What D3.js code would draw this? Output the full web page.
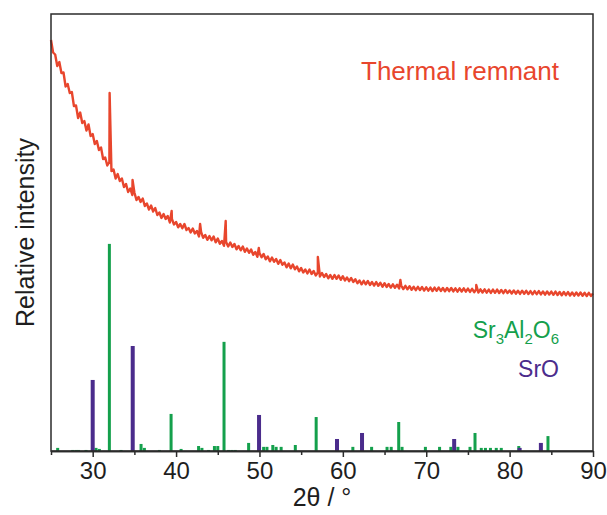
<!DOCTYPE html>
<html>
<head>
<meta charset="utf-8">
<script src="https://cdn.jsdelivr.net/npm/d3@7/dist/d3.min.js"></script>
<style>
    body { margin: 0; background: #fff; }
    svg { display: block; font-family: "Liberation Sans", Arial, sans-serif; }
    .xrd__frame { fill: none; stroke: #2b2b2b; stroke-width: 1.5; }
    .xrd__axis path, .xrd__axis line { stroke: #2b2b2b; stroke-width: 1.5; }
    .xrd__axis text { font-size: 24px; fill: #1e1e1e; }
    .xrd__title { font-size: 25px; fill: #1e1e1e; }
    .xrd__curve { fill: none; stroke: #e8462d; stroke-width: 2.4; stroke-linejoin: round; }
</style>
</head>
<body>
<div class="xrdChart"></div>
<script>
// ----- DATA -----------------------------------------------------------
// scan of the thermal remnant, 25-90 deg in 0.25 deg steps (counts)
const scanStart = 25;
const scanStep = 0.25;
const remnantCounts = [
    4110, 3985, 3965, 3850, 3890, 3780, 3785, 3645, 3670, 3580, 3590, 3450, 3455, 3330, 3385, 3280, 3300, 3205, 3265, 3150,
    3170, 3070, 3100, 3010, 3035, 2920, 2935, 2855, 2890, 2800, 2815, 2725, 2770, 2700, 2725, 2640, 2670, 2590, 2625, 2560,
    2585, 2510, 2540, 2490, 2525, 2450, 2475, 2415, 2455, 2395, 2430, 2360, 2385, 2330, 2370, 2320, 2350, 2285, 2320, 2265,
    2290, 2237, 2270, 2227, 2270, 2210, 2230, 2185, 2225, 2175, 2200, 2145, 2190, 2132, 2160, 2112, 2150, 2107, 2145, 2087,
    2125, 2072, 2100, 2052, 2090, 2045, 2085, 2040, 2070, 2017, 2050, 2007, 2045, 1992, 2025, 1982, 2015, 1962, 1990, 1942,
    1980, 1937, 1970, 1917, 1945, 1897, 1935, 1892, 1920, 1872, 1910, 1862, 1885, 1837, 1875, 1827, 1865, 1817, 1845, 1797,
    1830, 1785, 1815, 1775, 1815, 1770, 1800, 1755, 1785, 1745, 1780, 1740, 1770, 1727, 1760, 1722, 1760, 1722, 1755, 1712,
    1748, 1705, 1735, 1698, 1730, 1690, 1718, 1677, 1705, 1667, 1702, 1667, 1700, 1660, 1690, 1654, 1690, 1652, 1682, 1642,
    1678, 1640, 1670, 1634, 1667, 1632, 1663, 1625, 1655, 1619, 1652, 1617, 1648, 1612, 1642, 1608, 1642, 1609, 1640, 1604,
    1637, 1603, 1634, 1600, 1634, 1602, 1635, 1600, 1630, 1597, 1630, 1598, 1630, 1596, 1627, 1593, 1627, 1595, 1627, 1593,
    1624, 1591, 1622, 1588, 1618, 1585, 1617, 1585, 1617, 1583, 1614, 1581, 1614, 1582, 1614, 1580, 1611, 1578, 1611, 1579,
    1606, 1575, 1606, 1573, 1603, 1571, 1603, 1572, 1602, 1569, 1599, 1567, 1599, 1568, 1599, 1566, 1595, 1563, 1595, 1564,
    1594, 1562, 1594, 1560, 1590, 1557, 1590, 1558, 1589, 1555, 1585, 1553, 1585, 1554, 1585, 1552, 1582, 1550, 1582, 1551,
    1575
];

// sharp reflections sitting on the remnant background [2theta, counts]
const remnantPeaks = [
    [32.03, 3580], [34.78, 2710], [39.47, 2400], [42.88, 2270], [45.95, 2300],
    [49.92, 2030], [57.00, 1940], [66.90, 1710], [76.00, 1660]
];

// reference pattern Sr3Al2O6 (relative intensity, %)
const sr3al2o6Angles = [
    25.8, 27.6, 28.0, 28.3, 29.2, 30.4, 30.8, 32.0, 33.4, 35.8, 36.2, 38.0, 39.4, 40.6,
    42.7, 43.1, 43.9, 44.6, 45.0, 45.75, 46.3, 46.7, 47.1, 48.7, 50.5, 50.9, 51.6, 52.0,
    52.6, 54.3, 56.8, 61.2, 63.45, 65.3, 65.8, 66.7, 67.1, 69.9, 71.6, 72.95, 73.8, 75.25,
    75.85, 76.6, 77.1, 77.7, 78.4, 79.0, 81.1, 84.6
];
const sr3al2o6Intensity = [
    1.5, 0.5, 0.5, 0.5, 0.5, 1.5, 1.0, 100, 0.5, 3.4, 1.5, 0.5, 17.9, 1.0,
    2.4, 1.5, 0.5, 2.4, 2.4, 52.7, 0.5, 0.5, 0.5, 3.9, 2.0, 2.0, 2.9, 2.0,
    2.0, 2.9, 16.4, 2.0, 2.0, 2.0, 2.0, 14.0, 2.0, 2.0, 2.0, 2.0, 2.0, 2.0,
    8.7, 1.5, 1.5, 1.5, 1.5, 1.5, 2.4, 7.2
];

// reference pattern SrO (relative intensity, %)
const sroAngles = [30.0, 34.8, 49.95, 59.3, 62.3, 73.35, 81.2, 83.75];
const sroIntensity = [34.3, 50.7, 17.4, 5.8, 8.7, 5.8, 1.5, 3.9];

const majorTicks = [30, 40, 50, 60, 70, 80, 90];
const minorTicks = [25, 35, 45, 55, 65, 75, 85];

const COLOURS = {
    remnant: "#e8462d",
    sr3al2o6: "#14a04c",
    sro: "#4b2c8c"
};

// ----- CHART ----------------------------------------------------------
function _drawXrdChart()
{
    const width = 607;
    const height = 515;
    const margin = { top: 14, right: 14, bottom: 64, left: 51 };
    const innerWidth = width - margin.left - margin.right;
    const innerHeight = height - margin.top - margin.bottom;

    const svg = d3.select(".xrdChart").append("svg")
        .attr("width", width)
        .attr("height", height);

    const chart = svg.append("g")
        .attr("transform", "translate(" + margin.left + "," + margin.top + ")");

    const x = d3.scaleLinear().domain([25, 90]).range([0, innerWidth]);
    // measured counts
    const y = d3.scaleLinear().domain([0, 4370]).range([innerHeight, 0]);
    // reference sticks, 100 % sits a bit under half the plot height
    const yRef = d3.scaleLinear().domain([0, 211]).range([innerHeight, 0]);

    // merge the scan grid and the sharp peaks
    const scan = remnantCounts.map((c, i) => [scanStart + i * scanStep, c])
        .concat(remnantPeaks)
        .sort((a, b) => a[0] - b[0]);

    const line = d3.line()
        .x(d => x(d[0]))
        .y(d => y(d[1]));

    chart.append("path")
        .datum(scan)
        .classed("xrd__curve", true)
        .attr("d", line);

    // reference sticks
    const sticks = [
        { angles: sr3al2o6Angles, values: sr3al2o6Intensity, colour: COLOURS.sr3al2o6, w: 3 },
        { angles: sroAngles, values: sroIntensity, colour: COLOURS.sro, w: 4 }
    ];

    sticks.forEach(s => {
        chart.append("g")
            .selectAll("rect")
            .data(s.angles.map((a, i) => ({ a: a, v: s.values[i] })))
            .enter()
                .append("rect")
                .attr("x", d => x(d.a) - s.w / 2)
                .attr("y", d => yRef(d.v))
                .attr("width", s.w)
                .attr("height", d => innerHeight - yRef(d.v))
                .attr("fill", s.colour);
    });

    // frame
    chart.append("rect")
        .classed("xrd__frame", true)
        .attr("x", 0)
        .attr("y", 0)
        .attr("width", innerWidth)
        .attr("height", innerHeight);

    // x axis, major + minor ticks
    chart.append("g")
        .classed("xrd__axis", true)
        .attr("transform", "translate(0," + innerHeight + ")")
        .call(d3.axisBottom(x).tickValues(majorTicks).tickSize(6).tickSizeOuter(0).tickPadding(5));

    chart.append("g")
        .classed("xrd__axis", true)
        .attr("transform", "translate(0," + innerHeight + ")")
        .call(d3.axisBottom(x).tickValues(minorTicks).tickSize(4).tickSizeOuter(0).tickFormat(""));

    svg.append("text")
        .classed("xrd__title", true)
        .attr("x", margin.left + innerWidth / 2)
        .attr("y", 506)
        .attr("text-anchor", "middle")
        .text("2θ / °");

    svg.append("text")
        .classed("xrd__title", true)
        .attr("transform", "translate(34," + (margin.top + innerHeight / 2) + ") rotate(-90)")
        .attr("text-anchor", "middle")
        .text("Relative intensity");

    // labels
    svg.append("text")
        .attr("x", 559)
        .attr("y", 80)
        .attr("text-anchor", "end")
        .attr("font-size", 26)
        .attr("fill", COLOURS.remnant)
        .text("Thermal remnant");

    const phaseLabel = svg.append("text")
        .attr("x", 559)
        .attr("y", 338)
        .attr("text-anchor", "end")
        .attr("font-size", 23)
        .attr("fill", COLOURS.sr3al2o6);

    [["Sr", 0], ["3", 1], ["Al", 0], ["2", 1], ["O", 0], ["6", 1]].forEach((p, i, arr) => {
        const prevSub = i > 0 ? arr[i - 1][1] : 0;
        phaseLabel.append("tspan")
            .attr("font-size", p[1] ? 15 : 23)
            .attr("dy", (p[1] - prevSub) * 6)
            .text(p[0]);
    });

    svg.append("text")
        .attr("x", 559)
        .attr("y", 377)
        .attr("text-anchor", "end")
        .attr("font-size", 23)
        .attr("fill", COLOURS.sro)
        .text("SrO");
}

_drawXrdChart();
</script>
</body>
</html>
